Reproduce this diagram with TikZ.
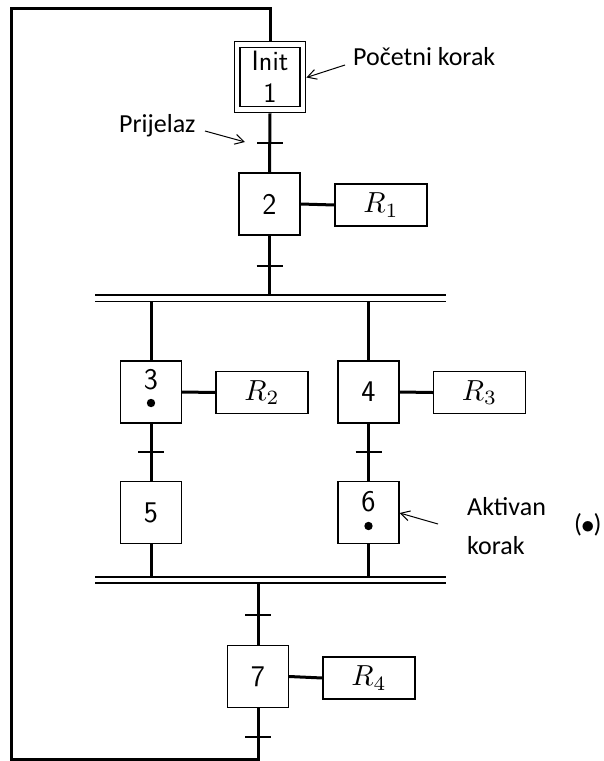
\documentclass[tikz,border=0pt]{standalone}
\usepackage{graphicx}
\usepackage{fontspec}
\newfontfamily\annfont{Carlito}
\usetikzlibrary{arrows.meta}
\newcommand{\actlabel}[1]{\scalebox{2.9}{$R_{#1}$}}
\begin{document}
\begin{tikzpicture}[x=1pt,y=-1pt,line join=miter,
  stepbox/.style={draw, line width=1.3pt, minimum width=61pt, minimum height=62pt, inner sep=0pt, font=\fontsize{30}{32}\sffamily},
  actbox/.style={draw, line width=1.3pt, minimum width=92pt, minimum height=42pt, inner sep=0pt, font=\fontsize{10}{12}\selectfont},
  num/.style={inner sep=0pt, font=\fontsize{30}{32}\sffamily},
  flow/.style={line width=3pt},
  tickmark/.style={line width=1.5pt},
  bar/.style={line width=1.6pt},
  ann/.style={inner sep=0pt, font=\annfont\fontsize{26}{39}\selectfont, align=left},
  pointer/.style={-{Straight Barb[length=9pt,width=10pt]}, line width=1pt}
]
\useasboundingbox (0,0) rectangle (604,761);

% steps
\node[stepbox, minimum width=71.5pt, minimum height=71.5pt] (init) at (270,77) {};
\node[stepbox, minimum width=60pt, minimum height=59pt, align=center, font=\fontsize{28}{32}\sffamily] (initin) at (270,77) {Init\\1};
\node[stepbox] (b2) at (269.5,204) {2};
\node[stepbox] (b3) at (151,392) {};
\node[num] (n3) at (151,380) {3};
\fill (151,403) circle (4.2pt);
\node[stepbox] (b4) at (368.5,392) {4};
\node[stepbox] (b5) at (151,512.5) {5};
\node[stepbox] (b6) at (368.5,512.5) {};
\node[num] (n6) at (368.5,502) {6};
\fill (368.5,526) circle (4.2pt);
\node[stepbox] (b7) at (258,676.5) {7};

% actions
\node[actbox] (r1) at (381,205) {\actlabel{1}};
\node[actbox] (r2) at (262,392.5) {\actlabel{2}};
\node[actbox] (r3) at (479.5,392.5) {\actlabel{3}};
\node[actbox] (r4) at (369,678) {\actlabel{4}};

% junction coordinates
\coordinate (j1) at (269.5,295);
\coordinate (j3) at (151,301.5);
\coordinate (j4) at (368.5,301.5);
\coordinate (j5) at (151,577);
\coordinate (j6) at (368.5,577);
\coordinate (j7) at (258,583);
\coordinate (lb) at (11.5,759);
\coordinate (lt) at (11.5,8.5);

% parallel bars
\draw[bar] (95,295) -- (446,295) (95,301.5) -- (446,301.5);
\draw[bar] (95,577) -- (446,577) (95,583) -- (446,583);

% flow lines
\draw[flow] (init.south) -- (b2.north);
\draw[flow] (b2.south) -- (j1);
\draw[flow] (j3) -- (b3.north);
\draw[flow] (j4) -- (b4.north);
\draw[flow] (b3.south) -- (b5.north);
\draw[flow] (b4.south) -- (b6.north);
\draw[flow] (b5.south) -- (j5);
\draw[flow] (b6.south) -- (j6);
\draw[flow] (j7) -- (b7.north);
\draw[flow] (b7.south) |- (lb) -- (lt) -| (init.north);

% action links
\draw[flow] (b2.east) -- (r1.west);
\draw[flow] (b3.east) -- (r2.west);
\draw[flow] (b4.east) -- (r3.west);
\draw[flow] (b7.east) -- (r4.west);

% transitions
\draw[tickmark] (257,143) -- (283,143);
\draw[tickmark] (256.5,266) -- (282.5,266);
\draw[tickmark] (138,452) -- (164,452);
\draw[tickmark] (355.5,452) -- (381.5,452);
\draw[tickmark] (245,615) -- (271,615);
\draw[tickmark] (245,737) -- (271,737);

% annotations
\node[ann, anchor=base west] (tpk) at (353,65) {Početni korak};
\coordinate (apk) at (345,65);
\draw[pointer] (apk) -- (init.east |- 0,77.5);
\node[ann, anchor=base west] (tpr) at (119,132.5) {Prijelaz};
\coordinate (apr) at (205,131);
\coordinate (epr) at (245,142);
\draw[pointer] (apr) -- (epr);
\node[ann, anchor=base west] (tak) at (467,554) {Aktivan\\korak};
\coordinate (aak) at (438,524);
\draw[pointer] (aak) -- (b6.east |- 0,513);
\node[ann, anchor=base west] (tdot) at (574,532) {(\kern-1pt{\fontsize{10}{12}\selectfont\raisebox{-1pt}{\scalebox{2.7}{$\bullet$}}}\kern-1pt)};
\end{tikzpicture}
\end{document}
